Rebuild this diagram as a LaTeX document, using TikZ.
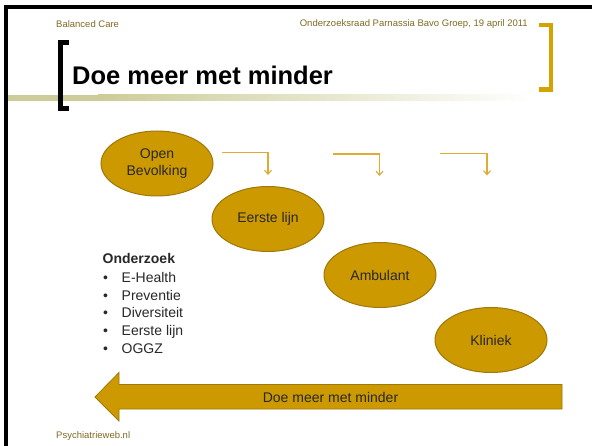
\documentclass[tikz,border=0pt]{standalone}
\usepackage{fontspec}
\setmainfont{Liberation Sans}
\usetikzlibrary{shapes.geometric,arrows.meta}
\definecolor{gold}{RGB}{204,153,0}
\definecolor{golddark}{RGB}{158,120,10}
\definecolor{goldline}{RGB}{222,172,52}
\definecolor{bracketgold}{RGB}{214,162,0}
\definecolor{headtext}{RGB}{128,106,38}
\definecolor{bandcol}{RGB}{204,204,153}
\definecolor{bodytext}{RGB}{40,40,40}
\begin{document}
\begin{tikzpicture}[x=1pt,y=-1pt,
  stage/.style={ellipse,draw=golddark,fill=gold,line width=1pt,minimum width=112pt,
    minimum height=65pt,inner sep=0pt,text=bodytext,align=center,
    font=\fontsize{14}{17.5}\selectfont},
  elbow/.style={goldline,line width=1.1pt,-{Straight Barb[length=4pt,width=7pt]}},
  header/.style={headtext,inner sep=0pt,font=\fontsize{9.5}{11}\selectfont},
  listitem/.style={anchor=base west,inner sep=0pt,text=bodytext,font=\fontsize{14}{17}\selectfont}]
  \useasboundingbox[fill=white] (0,0) rectangle (592,446);
  % frame and title bar
  \draw[line width=4pt,miter limit=4] (6,446) -- (6,7) -- (592,7);
  \fill[bandcol] (8,95) rectangle (98,101.5);
  \shade[left color=bandcol,right color=white] (98,95) rectangle (535,100.5);
  \draw[line width=5pt] (69,43) -| (60,109) -- (69,109);
  \draw[bracketgold,line width=4.3pt] (539,25) -| (551,89.5) -- (539,89.5);
  \node[header,anchor=west] (hleft) at (56,24) {Balanced Care};
  \node[header,anchor=east] (hright) at (528,24) {Onderzoeksraad Parnassia Bavo Groep, 19 april 2011};
  \node[anchor=base west,inner sep=0pt,font=\fontsize{25.5}{30}\selectfont\bfseries] (title) at (72,85) {Doe meer met minder};
  \node[header,anchor=west] (foot) at (56,436) {Psychiatrieweb.nl};

  % stages
  \node[stage] (open) at (157,163.5) {Open\\Bevolking};
  \node[stage] (eerste) at (268,219) {Eerste lijn};
  \node[stage] (ambulant) at (380,275) {Ambulant};
  \node[stage] (kliniek) at (491,340) {Kliniek};

  % elbow arrows
  \coordinate (s1) at (222,152.5);
  \coordinate (e1) at (268,175);
  \coordinate (s2) at (333,154);
  \coordinate (e2) at (379.5,176);
  \coordinate (s3) at (440,153.5);
  \coordinate (e3) at (487,175.5);
  \draw[elbow] (s1) -| (e1);
  \draw[elbow] (s2) -| (e2);
  \draw[elbow] (s3) -| (e3);

  % research list
  \node[listitem,font=\fontsize{14}{17}\selectfont\bfseries] (onderzoek) at (102.5,264) {Onderzoek};
  \node[listitem] (b1) at (103,282.5) {\makebox[18.5pt][l]{•}E-Health};
  \node[listitem] (b2) at (103,300.5) {\makebox[18.5pt][l]{•}Preventie};
  \node[listitem] (b3) at (103,318) {\makebox[18.5pt][l]{•}Diversiteit};
  \node[listitem] (b4) at (103,336) {\makebox[18.5pt][l]{•}Eerste lijn};
  \node[listitem] (b5) at (103,353.5) {\makebox[18.5pt][l]{•}OGGZ};

  % big arrow
  \draw[fill=gold,draw=golddark,line width=0.8pt] (95,397) -- (119,372.5) -- (119,384.5)
    -- (562,384.5) -- (562,409) -- (119,409) -- (119,421) -- cycle;
  \node[inner sep=0pt,text=bodytext,font=\fontsize{14}{17}\selectfont] (motto) at (330.5,397.5) {Doe meer met minder};
\end{tikzpicture}
\end{document}
